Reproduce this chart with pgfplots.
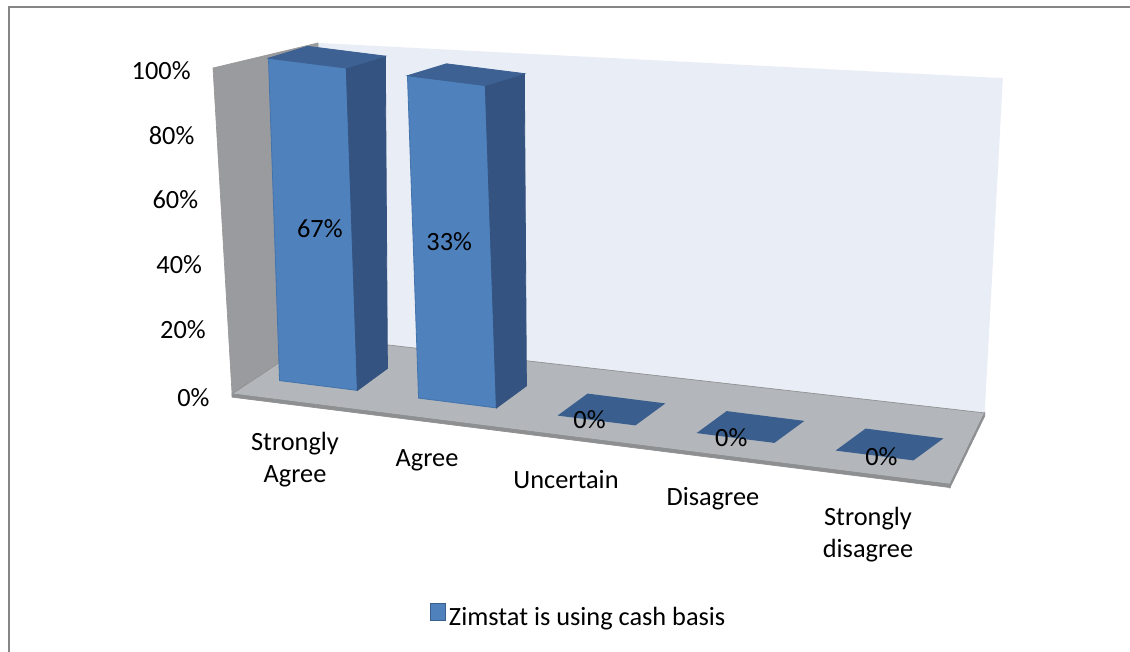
\documentclass[border=0pt]{standalone}
\usepackage{fontspec}
\setmainfont{Carlito}
\usepackage{pgfplots}
\pgfplotsset{compat=1.18}
\definecolor{barfront}{HTML}{4F81BD}
\definecolor{barside}{HTML}{345380}
\definecolor{bartop}{HTML}{3C6192}
\definecolor{baredge}{HTML}{4474AC}
\definecolor{flatbar}{HTML}{3A5F8E}
\definecolor{backwall}{HTML}{E9EDF6}
\definecolor{sidewall}{HTML}{9A9B9E}
\definecolor{floorc}{HTML}{B3B6BA}
\definecolor{flooredge}{HTML}{8E8F91}
\definecolor{framec}{HTML}{868686}
\newcommand\fs{\fontsize{15.8pt}{19.2pt}\selectfont}
% #1 left, #2 right (category position -/+ half width), #3 value
% (a slight lean and foreshortening imitate the perspective of the original)
\newcommand\cuboid[3]{%
  \pgfmathsetmacro\ftl{#1-0.08*#3/100}%
  \pgfmathsetmacro\ftr{#2-0.08*#3/100}%
  \pgfmathsetmacro\btl{#1-0.015*#3/100}%
  \pgfmathsetmacro\btr{#2-0.015*#3/100}%
  \pgfmathsetmacro\bh{0.972*#3}%
  \addplot3[fill=barfront, draw=baredge, line width=0.5pt] coordinates
    {(#1,0.75,0) (#2,0.75,0) (\ftr,0.75,#3) (\ftl,0.75,#3)} -- cycle;
  \addplot3[fill=barside, draw=barside, line width=0.5pt] coordinates
    {(#2,0.75,0) (#2,1.75,0) (\btr,1.75,\bh) (\ftr,0.75,#3)} -- cycle;
  \addplot3[fill=bartop, draw=bartop, line width=0.5pt] coordinates
    {(\ftl,0.75,#3) (\ftr,0.75,#3) (\btr,1.75,\bh) (\btl,1.75,\bh)} -- cycle;
}
\newcommand\flatbar[2]{%
  \addplot3[fill=flatbar, draw=none] coordinates
    {(#1,0.75,0) (#2,0.75,0) (#2,1.75,0) (#1,1.75,0)} -- cycle;
}
\begin{document}
\begin{tikzpicture}
\path[use as bounding box] (0pt,0pt) rectangle (678pt,391.2pt);
\fill[white] (0pt,0pt) rectangle (678pt,391.2pt);
\draw[framec, line width=1.2pt] (5.1pt,-10pt) -- (5.1pt,386.7pt) -- (700pt,386.7pt);
\begin{axis}[
  at={(177.6pt,150pt)}, anchor=origin,
  x={(83.4pt,-10.5pt)}, y={(18pt,13.2pt)}, z={(0pt,1.926pt)},
  xmin=-0.7, xmax=4.8, ymin=0, ymax=3, zmin=-2, zmax=110,
  hide axis, clip=false,
]
% walls and floor
\addplot3[fill=backwall, draw=none] coordinates
  {(-0.409,2.629,0) (4.32,2.94,0) (4.451,2.94,105) (-0.409,2.629,91.6)} -- cycle;
\addplot3[fill=sidewall, draw=gray!80] coordinates
  {(-0.46,0,0) (-0.597,0,100.8) (-0.409,2.629,91.6) (-0.409,2.629,0)} -- cycle;
\addplot3[fill=floorc, draw=flooredge, line width=0.4pt] coordinates
  {(-0.46,0,0) (4.705,0,0) (4.32,2.94,0) (-0.409,2.629,0)} -- cycle;
\addplot3[fill=flooredge, draw=flooredge] coordinates
  {(-0.46,0,0) (4.705,0,0) (4.705,0,-1) (-0.46,0,-1)} -- cycle;
\addplot3[fill=flooredge, draw=flooredge] coordinates
  {(4.705,0,0) (4.32,2.94,0) (4.32,2.94,-1) (4.705,0,-1)} -- cycle;
% bars: Strongly Agree, Agree (drawn reaching 100), Uncertain, Disagree, Strongly disagree (0)
\cuboid{-0.28}{0.28}{100}
\cuboid{0.72}{1.28}{100}
\flatbar{1.72}{2.28}
\flatbar{2.72}{3.28}
\flatbar{3.72}{4.28}
% data labels
\node[font=\fs] at (axis cs:0.01,0.75,49) {67\%};
\node[font=\fs] at (axis cs:0.94,0.75,50) {33\%};
\node[font=\fs] at (axis cs:1.95,0.75,0) {0\%};
\node[font=\fs] at (axis cs:2.97,0.75,0) {0\%};
\node[font=\fs] at (axis cs:4.05,0.75,0) {0\%};
% value axis labels
\node[font=\fs, anchor=east, xshift=-10pt] at (axis cs:-0.46,0,-1) {0\%};
\node[font=\fs, anchor=east, xshift=-10pt] at (axis cs:-0.487,0,20) {20\%};
\node[font=\fs, anchor=east, xshift=-10pt] at (axis cs:-0.514,0,40) {40\%};
\node[font=\fs, anchor=east, xshift=-10pt] at (axis cs:-0.542,0,60) {60\%};
\node[font=\fs, anchor=east, xshift=-10pt] at (axis cs:-0.569,0,80) {80\%};
\node[font=\fs, anchor=east, xshift=-10pt] at (axis cs:-0.596,0,100) {100\%};
% category labels
\node[font=\fs, align=center, xshift=-0.6pt, yshift=-34.8pt] at (axis cs:0,0,0) {Strongly\\Agree};
\node[font=\fs, align=center, xshift=-4.8pt, yshift=-24.3pt] at (axis cs:1,0,0) {Agree};
\node[font=\fs, align=center, xshift=-4.8pt, yshift=-25.8pt] at (axis cs:2,0,0) {Uncertain};
\node[font=\fs, align=center, xshift=0pt, yshift=-26.7pt] at (axis cs:3,0,0) {Disagree};
\node[font=\fs, align=center, xshift=9.6pt, yshift=-37.8pt] at (axis cs:4,0,0) {Strongly\\disagree};
\end{axis}
\begin{axis}[
  at={(0pt,0pt)}, anchor=south west, scale only axis,
  width=678pt, height=391.2pt,
  xmin=0, xmax=1, ymin=0, ymax=1, hide axis,
  legend style={at={(0.5124,0.0537)}, anchor=center, draw=none, fill=none,
    font=\fs, inner sep=0pt, nodes={inner sep=1.5pt}},
  legend image code/.code={\draw[fill=barfront, draw=flatbar, line width=0.6pt]
    (0pt,-1.3pt) rectangle (9.2pt,8.6pt);},
]
\addplot[draw=none, forget plot] coordinates {(0,0)};
\addlegendimage{}
\addlegendentry{Zimstat is using cash basis}
\end{axis}
\end{tikzpicture}
\end{document}
